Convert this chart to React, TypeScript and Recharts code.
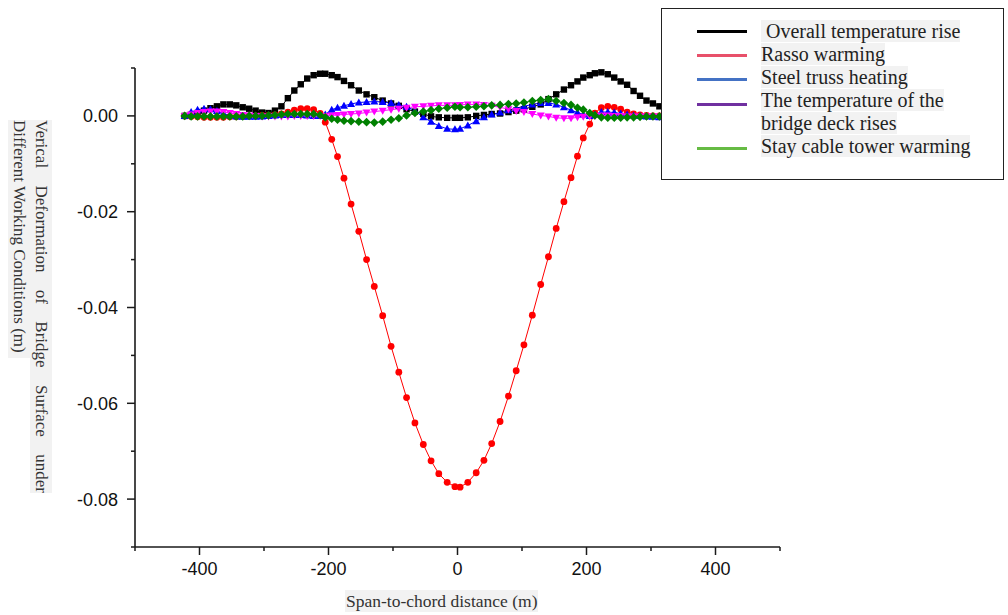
import { LineChart, Line, XAxis, YAxis } from "recharts";

// span positions of the deck nodes (m)
const SPAN = [
  -423, -413, -403, -393, -383, -373, -363, -353, -343, -333, -323, -313, -303, -293, -283, -273, -263, -253, -243, -233, -223, -213,
  -205, -195, -186, -176, -165, -153, -141, -129, -116, -103, -91, -79, -66, -53, -41, -29, -16, -4,
  4, 16, 29, 41, 53, 66, 79, 91, 103, 116, 129, 141, 153, 165, 176, 186, 195, 205,
  213, 223, 233, 243, 253, 263, 273, 283, 293, 303, 313,
];

// vertical deformation (m) for each working condition
const OVERALL = [
  0.0, 0.0002, 0.0006, 0.0011, 0.0016, 0.002, 0.0024, 0.0024, 0.0022, 0.0018, 0.0015, 0.0011, 0.0007, 0.0006, 0.0011, 0.002, 0.0037, 0.0053, 0.0066, 0.0078, 0.0085, 0.0088,
  0.0088, 0.0085, 0.0081, 0.0073, 0.0064, 0.0053, 0.0045, 0.0039, 0.0032, 0.0026, 0.0021, 0.0014, 0.0009, 0.0004, -0.0001, -0.0003, -0.0004, -0.0004,
  -0.0004, -0.0003, 0.0, 0.0002, 0.0004, 0.0005, 0.0008, 0.0011, 0.0014, 0.0019, 0.0024, 0.0035, 0.0045, 0.0055, 0.0064, 0.0072, 0.008, 0.0085,
  0.0089, 0.0091, 0.0087, 0.008, 0.0072, 0.0065, 0.0052, 0.0042, 0.0032, 0.0026, 0.002,
];
const RASSO = [
  0.0, -0.0001, -0.0002, -0.0003, -0.0003, -0.0003, -0.0003, -0.0002, -0.0002, -0.0001, 0.0, 0.0, 0.0001, 0.0001, 0.0002, 0.0004, 0.0008, 0.0012, 0.0015, 0.0015, 0.0013, 0.0005,
  -0.0013, -0.0049, -0.0085, -0.013, -0.0184, -0.0241, -0.03, -0.0356, -0.0417, -0.0481, -0.0535, -0.0588, -0.0641, -0.0686, -0.072, -0.0747, -0.0765, -0.0774,
  -0.0775, -0.0765, -0.0745, -0.0719, -0.0684, -0.0638, -0.0585, -0.0532, -0.0478, -0.0416, -0.0352, -0.0294, -0.0235, -0.0179, -0.0129, -0.0084, -0.0046, -0.0017,
  0.0006, 0.0017, 0.002, 0.0018, 0.0014, 0.0008, 0.0004, 0.0002, 0.0001, 0.0, 0.0,
];
const TRUSS = [
  0.0, 0.0008, 0.0013, 0.0015, 0.0014, 0.001, 0.0005, 0.0001, -0.0001, -0.0002, -0.0002, -0.0002, -0.0001, 0.0, 0.0001, 0.0002, 0.0002, 0.0002, 0.0002, 0.0001, 0.0, 0.0,
  0.0003, 0.0013, 0.0017, 0.0021, 0.0025, 0.0028, 0.0029, 0.003, 0.0029, 0.0027, 0.0023, 0.0019, 0.0011, -0.0003, -0.0012, -0.0021, -0.0027, -0.0028,
  -0.0027, -0.002, -0.0011, -0.0003, 0.0003, 0.0007, 0.0012, 0.0016, 0.002, 0.0024, 0.0027, 0.0027, 0.0024, 0.0018, 0.0012, 0.0007, 0.0003, 0.0,
  0.0003, 0.0008, 0.0008, 0.0007, 0.0005, 0.0003, 0.0001, 0.0, -0.0001, -0.0002, -0.0003,
];
const DECK = [
  0.0, 0.0003, 0.0006, 0.0008, 0.0009, 0.0009, 0.0008, 0.0006, 0.0004, 0.0002, 0.0001, 0.0, -0.0001, -0.0001, -0.0001, -0.0001, -0.0001, 0.0, 0.0, 0.0, 0.0, 0.0,
  0.0, 0.0001, 0.0002, 0.0003, 0.0004, 0.0005, 0.0007, 0.0009, 0.0011, 0.0013, 0.0015, 0.0017, 0.0019, 0.002, 0.0021, 0.0022, 0.0022, 0.0022,
  0.0023, 0.0024, 0.0024, 0.0023, 0.0021, 0.0018, 0.0014, 0.001, 0.0008, 0.0004, 0.0001, -0.0001, -0.0004, -0.0005, -0.0005, -0.0003, -0.0002, -0.0001,
  0.0, 0.0001, 0.0001, 0.0, 0.0, -0.0001, -0.0001, -0.0001, -0.0001, -0.0001, -0.0001,
];
const TOWER = [
  0.0, -0.0001, -0.0001, -0.0001, -0.0001, -0.0001, -0.0001, -0.0001, -0.0001, -0.0001, 0.0, 0.0, 0.0, 0.0001, 0.0002, 0.0003, 0.0004, 0.0004, 0.0004, 0.0004, 0.0004, 0.0002,
  -0.0003, -0.0006, -0.0008, -0.001, -0.0011, -0.0012, -0.0013, -0.0014, -0.0012, -0.0008, -0.0005, 0.0001, 0.0006, 0.0009, 0.0012, 0.0015, 0.0017, 0.0019,
  0.0018, 0.0018, 0.0019, 0.002, 0.0022, 0.0023, 0.0025, 0.0026, 0.0028, 0.0031, 0.0033, 0.0035, 0.0031, 0.0027, 0.0023, 0.0017, 0.0013, 0.0006,
  0.0001, -0.0003, -0.0004, -0.0004, -0.0004, -0.0003, -0.0003, -0.0002, -0.0001, -0.0001, -0.0001,
];

const X_TICKS = [-500, -400, -300, -200, -100, 0, 100, 200, 300, 400, 500];
const X_LABELS = [-400, -200, 0, 200, 400];
const Y_TICKS = [0.01, 0, -0.01, -0.02, -0.03, -0.04, -0.05, -0.06, -0.07, -0.08, -0.09];
const Y_LABELS = [0, -0.02, -0.04, -0.06, -0.08];

const SERIES = [
  { key: "overall", name: " Overall temperature rise", values: OVERALL, color: "#000000", legend: "#000000", marker: "square" },
  { key: "rasso", name: "Rasso warming", values: RASSO, color: "#ff0000", legend: "#e8506a", marker: "circle" },
  { key: "truss", name: "Steel truss heating", values: TRUSS, color: "#0000ff", legend: "#4472c4", marker: "up" },
  { key: "deck", name: "The temperature of the\nbridge deck rises", values: DECK, color: "#ff00ff", legend: "#7030a0", marker: "down" },
  { key: "tower", name: "Stay cable tower warming", values: TOWER, color: "#008000", legend: "#66bb44", marker: "diamond" },
];

const data = SPAN.map((x, i) => {
  const row: Record<string, number> = { x };
  SERIES.forEach((s) => (row[s.key] = s.values[i]));
  return row;
});

const AXIS = "#1a1a1a";
const SANS = "'Liberation Sans', Arial, sans-serif";
const SERIF = "'Liberation Serif', 'Times New Roman', serif";

function Marker({ cx, cy, shape, color }: any) {
  if (cx == null || cy == null) return null;
  switch (shape) {
    case "square":
      return <rect x={cx - 3.2} y={cy - 3.2} width={6.4} height={6.4} fill={color} />;
    case "circle":
      return <circle cx={cx} cy={cy} r={3.4} fill={color} />;
    case "up":
      return <polygon points={`${cx},${cy - 4} ${cx + 4},${cy + 3} ${cx - 4},${cy + 3}`} fill={color} />;
    case "down":
      return <polygon points={`${cx},${cy + 4} ${cx + 4},${cy - 3} ${cx - 4},${cy - 3}`} fill={color} />;
    default:
      return <polygon points={`${cx},${cy - 4.3} ${cx + 4.3},${cy} ${cx},${cy + 4.3} ${cx - 4.3},${cy}`} fill={color} />;
  }
}

function XTick({ x, y, payload }: any) {
  const v = payload.value;
  const major = X_LABELS.includes(v);
  return (
    <g>
      <line x1={x} x2={x} y1={y} y2={y + (major ? 8 : 4)} stroke={AXIS} strokeWidth={1.5} />
      {major && (
        <text x={x} y={y + 28} textAnchor="middle" fontSize={18} fontFamily={SANS} fill="#111">
          {v}
        </text>
      )}
    </g>
  );
}

function YTick({ x, y, payload }: any) {
  const v = payload.value;
  const major = Y_LABELS.some((m) => Math.abs(m - v) < 1e-9);
  return (
    <g>
      <line x1={x} x2={x - (major ? 8 : 4)} y1={y} y2={y} stroke={AXIS} strokeWidth={1.5} />
      {major && (
        <text x={x - 17} y={y + 6.5} textAnchor="end" fontSize={18} fontFamily={SANS} fill="#111">
          {v.toFixed(2)}
        </text>
      )}
    </g>
  );
}

function LegendBox() {
  const lineY = [31, 55, 79, 104, 148];
  return (
    <div
      style={{
        position: "absolute",
        left: 661,
        top: 8,
        width: 341,
        height: 170,
        border: "1px solid #222",
        background: "#fff",
        fontFamily: SERIF,
        fontSize: 20,
        color: "#222",
      }}
    >
      {SERIES.map((s, i) => (
        <div
          key={s.key}
          style={{
            position: "absolute",
            left: 35,
            top: lineY[i] - 9 - 1,
            width: 50,
            height: 2.5,
            background: s.legend,
          }}
        />
      ))}
      <div style={{ position: "absolute", left: 99, top: 11, lineHeight: "23px" }}>
        {SERIES.map((s) =>
          s.name.split("\n").map((t, j) => (
            <div key={s.key + j}>
              <span style={{ background: "#f2f2f2", whiteSpace: "pre" }}>{t}</span>
            </div>
          ))
        )}
      </div>
    </div>
  );
}

export default function App() {
  return (
    <div style={{ position: "absolute", left: 0, top: 0, width: 1008, height: 615, background: "#fff" }}>
      <LineChart
        width={1008}
        height={615}
        data={data}
        margin={{ top: 68, right: 228, bottom: 38, left: 75 }}
      >
        <XAxis
          dataKey="x"
          type="number"
          domain={[-500, 500]}
          ticks={X_TICKS}
          interval={0}
          height={30}
          tickSize={0}
          tickMargin={0}
          tick={<XTick />}
          axisLine={{ stroke: AXIS, strokeWidth: 1.6 }}
          tickLine={false}
        />
        <YAxis
          type="number"
          domain={[-0.09, 0.01]}
          ticks={Y_TICKS}
          interval={0}
          width={60}
          tickSize={0}
          tickMargin={0}
          tick={<YTick />}
          axisLine={{ stroke: AXIS, strokeWidth: 1.6 }}
          tickLine={false}
          allowDataOverflow
        />
        {SERIES.map((s) => (
          <Line
            key={s.key}
            dataKey={s.key}
            stroke={s.color}
            strokeWidth={1}
            isAnimationActive={false}
            dot={(p: any) => <Marker key={`${s.key}-${p.index}`} cx={p.cx} cy={p.cy} shape={s.marker} color={s.color} />}
            activeDot={false}
          />
        ))}
      </LineChart>

      {/* rotated axis title, two lines reading top to bottom */}
      <div
        style={{
          position: "absolute",
          left: 8,
          top: 120,
          writingMode: "vertical-rl",
          fontFamily: SERIF,
          fontSize: 17,
          lineHeight: "22px",
          color: "#333",
        }}
      >
        <div style={{ height: 373, background: "#f2f2f2", textAlign: "justify", textAlignLast: "justify" } as any}>
          Verical Deformation of Bridge Surface under
        </div>
        <div style={{ height: 238, background: "#f2f2f2" }}>Different Working Conditions (m)</div>
      </div>

      <div
        style={{
          position: "absolute",
          left: 345,
          top: 590,
          fontFamily: SERIF,
          fontSize: 17.5,
          lineHeight: "22px",
          color: "#333",
          background: "#f2f2f2",
          padding: "0 1px",
        }}
      >
        Span-to-chord distance (m)
      </div>

      <LegendBox />
    </div>
  );
}
